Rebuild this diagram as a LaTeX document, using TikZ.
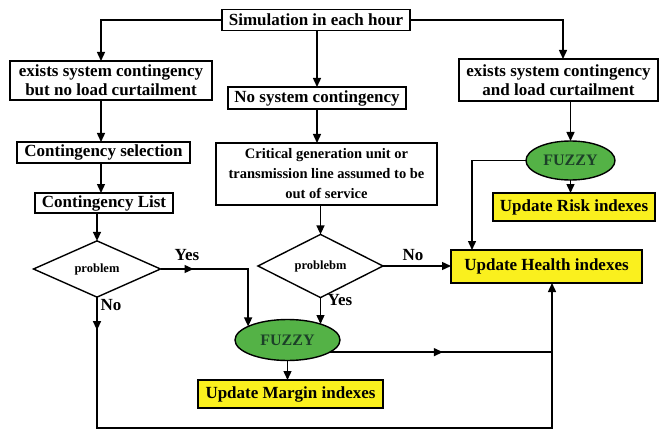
\documentclass[tikz,border=0pt]{standalone}
\usepackage{fontspec}
\setmainfont{Liberation Serif}
\usetikzlibrary{shapes.geometric,arrows.meta,decorations.markings}
\definecolor{fzgreen}{RGB}{84,178,70}
\definecolor{fztext}{RGB}{28,64,40}
\definecolor{ybox}{RGB}{250,240,30}
\begin{document}
\begin{tikzpicture}[x=1pt,y=-1pt,
 every node/.style={inner sep=0pt, outer sep=0pt},
 box/.style={draw, line width=1.4pt, rectangle, font=\fontsize{17}{19}\selectfont\bfseries, align=center},
 yelbox/.style={box, fill=ybox},
 dia/.style={draw, line width=1.4pt, diamond, font=\fontsize{12.5}{14}\selectfont\bfseries},
 fuzzy/.style={draw, line width=1.4pt, ellipse, fill=fzgreen, text=fztext, font=\fontsize{16}{18}\selectfont\bfseries},
 lab/.style={font=\fontsize{17}{19}\selectfont\bfseries},
 conn/.style={line width=1.4pt},
 arr/.style={conn, -{Triangle[length=9pt,width=8pt]}},
 midarr/.style={conn, postaction={decorate}, decoration={markings, mark=at position #1 with {\arrow{Triangle[length=9pt,width=8pt]}}}},
]
\useasboundingbox[fill=white] (0,0) rectangle (661,433);

% nodes
\node[box, minimum width=188pt, minimum height=21pt] (sim) at (316,20) {Simulation in each hour};
\node[box, minimum width=202pt, minimum height=39pt] (left1) at (111,80.5) {exists system contingency\\but no load curtailment};
\node[box, minimum width=173pt, minimum height=21pt] (cs) at (103.5,152.5) {Contingency selection};
\node[box, minimum width=138pt, minimum height=20pt] (cl) at (104,203) {Contingency List};
\node[dia, minimum width=127pt, minimum height=42pt] (d1) at (97,269) {problem};

\node[box, minimum width=178pt, minimum height=22pt] (nsc) at (317,98) {No system contingency};
\node[box, minimum width=221pt, minimum height=62pt, font=\fontsize{14.5}{20}\selectfont\bfseries] (crit) at (326.5,174) {Critical generation unit or\\transmission line assumed to be\\out of service};
\node[dia, minimum width=125pt, minimum height=44pt] (d2) at (320.5,266) {problebm};
\node[fuzzy, minimum width=105pt, minimum height=41pt] (fz1) at (287.5,340) {FUZZY};
\node[yelbox, minimum width=185pt, minimum height=28pt] (margin) at (290.5,394) {Update Margin indexes};

\node[box, minimum width=199pt, minimum height=42pt] (right1) at (558.5,80) {exists system contingency\\and load curtailment};
\node[fuzzy, minimum width=89pt, minimum height=39pt] (fz2) at (570.5,160.5) {FUZZY};
\node[yelbox, minimum width=162pt, minimum height=28pt] (risk) at (574,207) {Update Risk indexes};
\node[yelbox, minimum width=191pt, minimum height=33pt] (health) at (546.5,266.5) {Update Health indexes};

% labels
\node[lab] (yes1) at (187,255) {Yes};
\node[lab] (no1) at (111,305) {No};
\node[lab] (no2) at (413,255) {No};
\node[lab] (yes2) at (340,300) {Yes};

% helper coordinates
\coordinate (xl) at (101,0);
\coordinate (xr) at (563,0);
\coordinate (xh) at (472,0);
\coordinate (bot) at (300,428);
\coordinate (hx) at ([xshift=5.5pt]health.south);

% connectors
\draw[arr] (sim.west) -| (xl |- left1.north);
\draw[arr] (xl |- left1.south) -- (xl |- cs.north);
\draw[arr] (xl |- cs.south) -- (xl |- cl.north);
\draw[arr] (d1.north |- cl.south) -- (d1.north);
\draw[arr, midarr=33pt] (d1.east) -| (fz1.161);
\draw[arr, midarr=33pt] (d1.south) -- (d1.south |- bot) -| (hx);

\draw[arr] (nsc.north |- sim.south) -- (nsc.north);
\draw[arr] (nsc.south) -- (nsc.south |- crit.north);
\draw[arr] (d2.north |- crit.south) -- (d2.north);
\draw[arr] (d2.east) -- (health.west |- d2.east);
\draw[arr] (d2.south) -- (d2.south |- fz1.26);
\draw[arr] (fz1.south) -- (fz1.south |- margin.north);
\draw[midarr=113pt] (fz1.-16) -- (hx |- fz1.-16);

\draw[arr] (sim.east) -| (xr |- right1.north);
\draw[arr] (fz2.north |- right1.south) -- (fz2.north);
\draw[arr] (fz2.south) -- (fz2.south |- risk.north);
\draw[arr] (fz2.west) -| (xh |- health.north);
\end{tikzpicture}
\end{document}
